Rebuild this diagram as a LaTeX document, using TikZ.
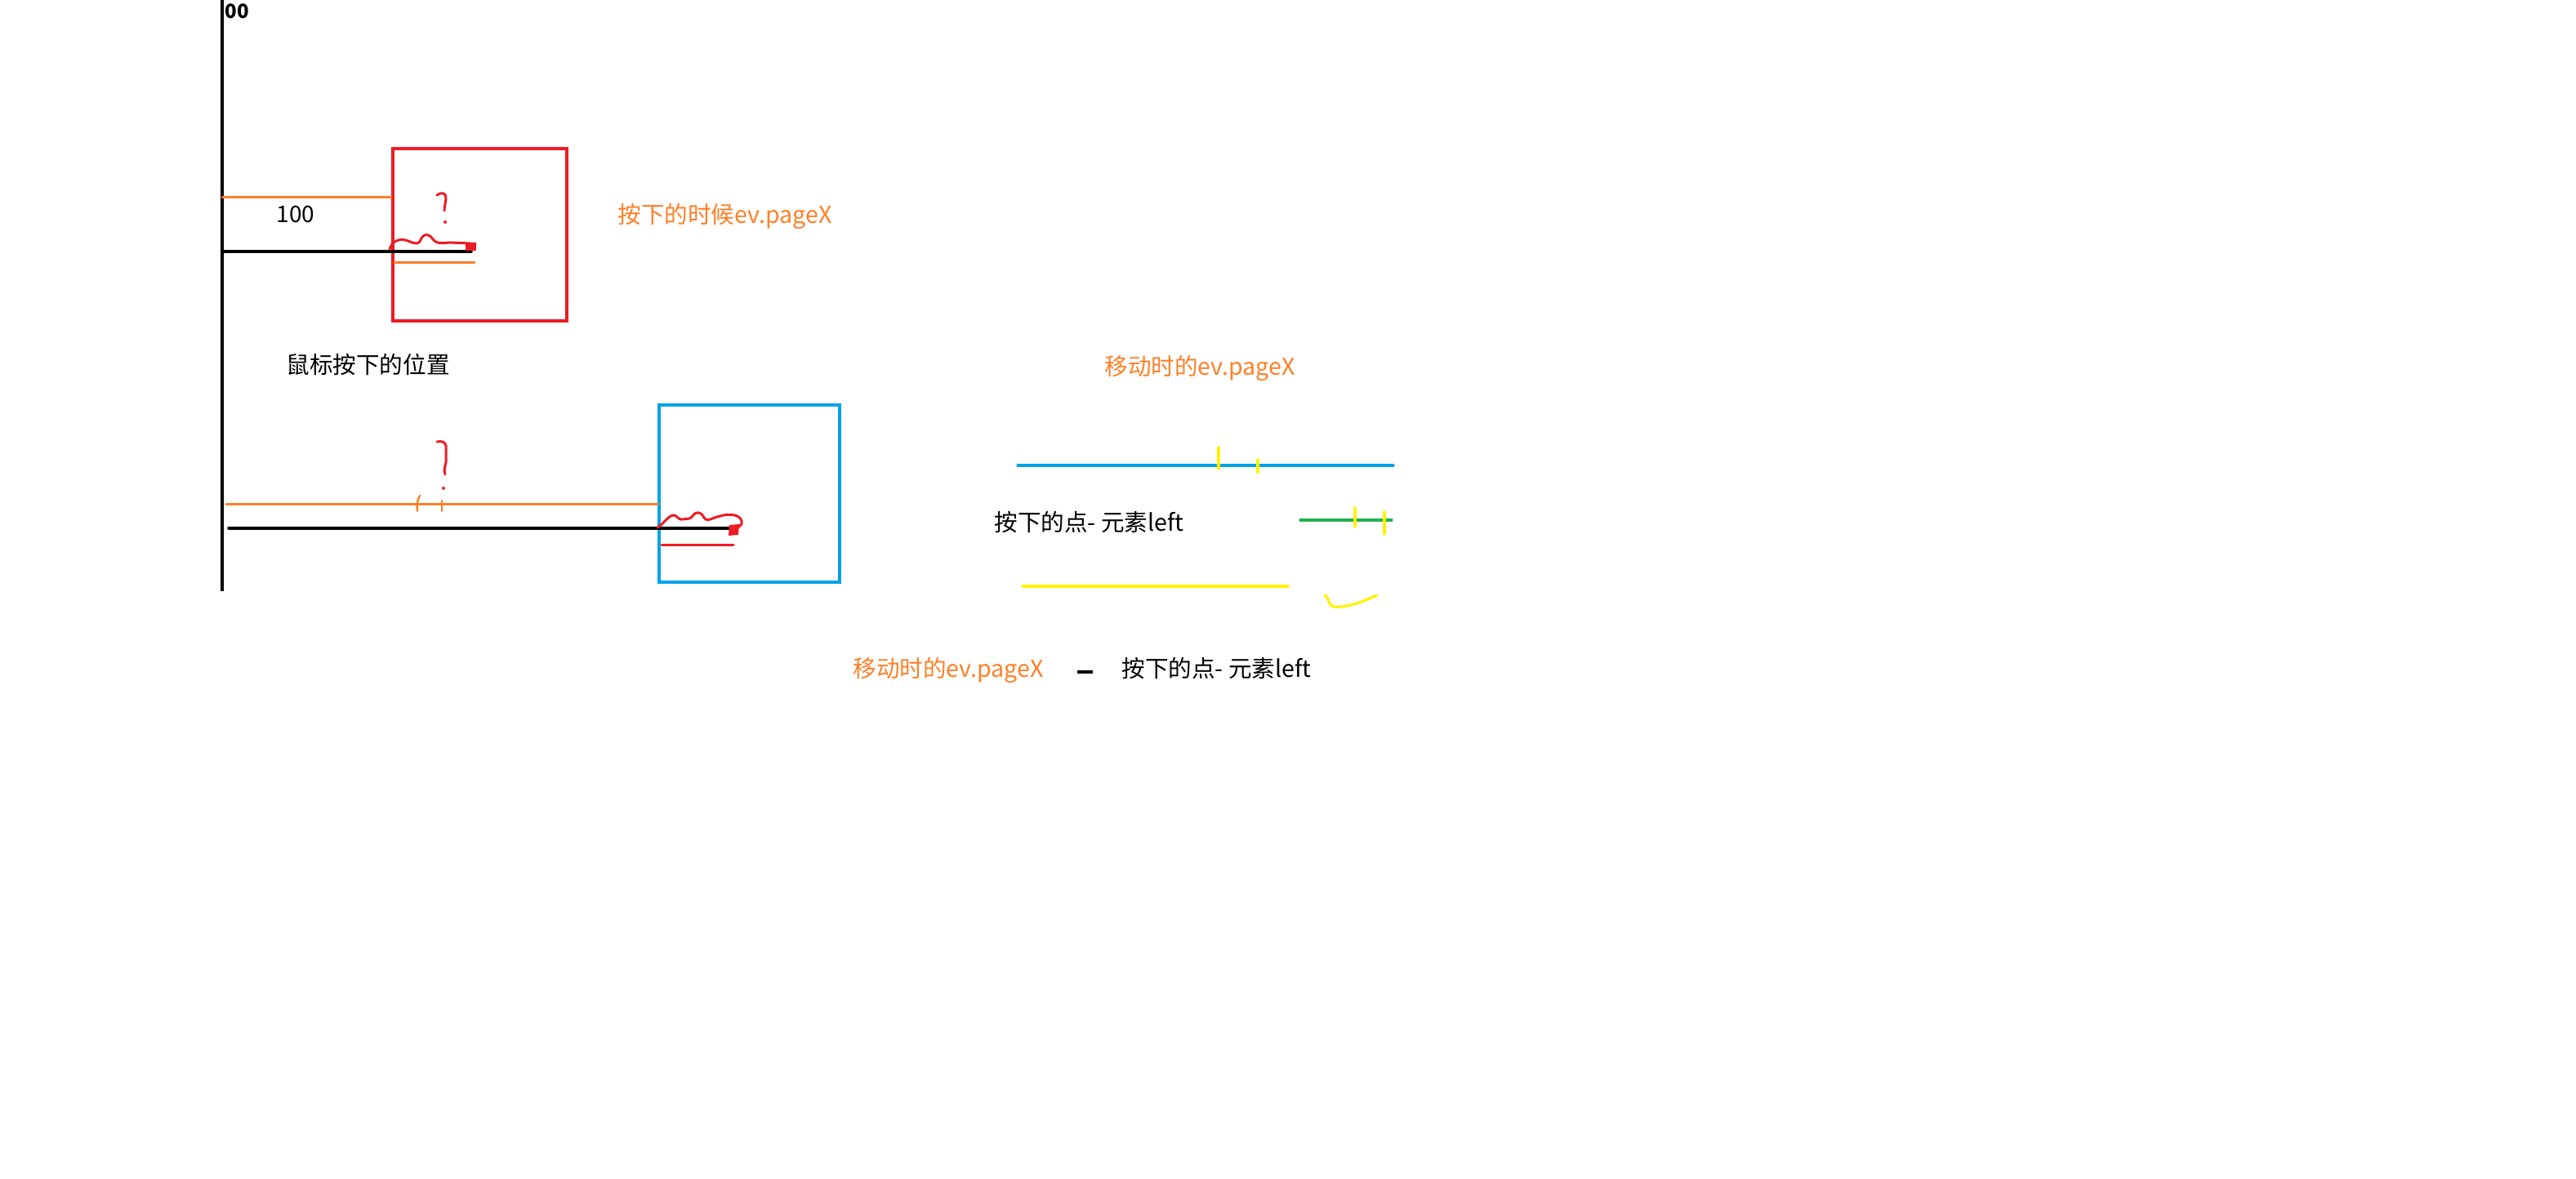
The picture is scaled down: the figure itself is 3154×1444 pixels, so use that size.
\documentclass[tikz,border=0pt]{standalone}
\usepackage{fontspec}
\newfontfamily\cjk{Noto Sans CJK SC}
\definecolor{pred}{HTML}{ED1C24}
\definecolor{porange}{HTML}{FF7F27}
\definecolor{pblue}{HTML}{00A2E8}
\definecolor{pgreen}{HTML}{22B14C}
\definecolor{pyellow}{HTML}{FFF200}
\begin{document}
\begin{tikzpicture}[x=0.5pt,y=-0.5pt,
  txt/.style={inner sep=0pt,anchor=west,font=\cjk\fontsize{14.3pt}{16pt}\selectfont},
  otxt/.style={txt,text=porange},
  axisline/.style={line width=2pt,black},
  blk/.style={line width=1.75pt,black,line cap=round},
  org/.style={line width=1.5pt,porange,line cap=round},
  redpen/.style={line width=1.5pt,pred,line cap=round,line join=round},
  ylw/.style={line width=1.6pt,pyellow,line cap=round,line join=round}]
\useasboundingbox[fill=white] (0,0) rectangle (3154,1444);
% axis
\coordinate (axtop) at (272,0);
\coordinate (axbot) at (272,724);
\draw[axisline] (axtop) -- (axbot);
\node[inner sep=0pt,font=\cjk\bfseries\fontsize{12pt}{12pt}\selectfont] (zz) at (290,14) {00};
% ---- first (red) box ----
\coordinate (rb1) at (481,182);
\coordinate (rb2) at (694,393);
\draw[pred,line width=2pt] (rb1) rectangle (rb2);
\coordinate (o1a) at (272,242);
\coordinate (o1b) at (479,242);
\draw[org] (o1a) -- (o1b);
\node[txt,anchor=center,font=\cjk\fontsize{14pt}{16pt}\selectfont] (hundred) at (362,263) {100};
\coordinate (b1a) at (272,308);
\coordinate (b1b) at (577,308);
\draw[blk] (b1a) -- (b1b);
\coordinate (o2a) at (483,322);
\coordinate (o2b) at (581,322);
\draw[org] (o2a) -- (o2b);
% red squiggle 1
\coordinate (s1) at (477,305);
\draw[redpen] (s1) .. controls (480,296) and (488,292) .. (496,294)
  .. controls (504,296) and (510,301) .. (514,296)
  .. controls (517,287) and (524,284) .. (530,293)
  .. controls (535,299) and (540,298) .. (550,297) -- (575,298);
\coordinate (sq1) at (576,302);
\fill[pred] (570,297) rectangle (583,307);
% question mark
\draw[redpen] (535,239) .. controls (540,235) and (546,236) .. (546,242)
  .. controls (546,248) and (544,252) .. (544,258);
\fill[pred] (545,272) circle (2);
\node[otxt] (l1) at (756,265) {按下的时候ev.pageX};
\node[txt] (l2) at (350,447) {鼠标按下的位置};
% ---- second (blue) box ----
\coordinate (bb1) at (807,496);
\coordinate (bb2) at (1028,713);
\draw[pblue,line width=2.3pt] (bb1) rectangle (bb2);
\coordinate (o3a) at (277,617);
\coordinate (o3b) at (806,617);
\draw[org] (o3a) -- (o3b);
\draw[org,line width=1.2pt] (514,607) .. controls (511,612) and (510,618) .. (511,626);
\draw[org,line width=1.2pt] (541,613) -- (541,626);
\coordinate (b2a) at (280,647);
\coordinate (b2b) at (899,647);
\draw[blk] (b2a) -- (b2b);
\draw[redpen] (805,646) .. controls (812,642) and (818,632) .. (824,631)
  .. controls (829,630) and (829,637) .. (836,636)
  .. controls (843,635) and (845,636) .. (848,632)
  .. controls (852,626) and (858,626) .. (862,634)
  .. controls (866,640) and (872,634) .. (882,632)
  .. controls (895,628) and (906,631) .. (908,638)
  .. controls (909,645) and (903,646) .. (898,648);
\fill[pred] (893,643) -- (905,642) -- (904,655) -- (892,656) -- cycle;
\coordinate (r2a) at (810,667);
\coordinate (r2b) at (898,667);
\draw[redpen] (r2a) -- (r2b);
% exclamation mark
\draw[redpen] (535,541) .. controls (541,540) and (545,541) .. (546,546)
  -- (546,566) .. controls (545,572) and (543,575) .. (545,581);
\fill[pred] (543,598) circle (2);
% ---- right part ----
\node[otxt] (l3) at (1352,451) {移动时的ev.pageX};
\coordinate (bl1) at (1246,570);
\coordinate (bl2) at (1706,570);
\draw[pblue,line width=1.6pt,line cap=round] (bl1) -- (bl2);
\draw[ylw] (1492,548) -- (1492,574);
\draw[ylw] (1540,563) -- (1540,579);
\node[txt] (l4) at (1217,640) {按下的点- 元素left};
\coordinate (gl1) at (1592,637);
\coordinate (gl2) at (1704,637);
\draw[pgreen,line width=1.6pt,line cap=round] (gl1) -- (gl2);
\draw[ylw] (1659,622) -- (1659,645);
\draw[ylw] (1695,627) -- (1695,654);
\coordinate (yl1) at (1252,718);
\coordinate (yl2) at (1577,718);
\draw[ylw] (yl1) -- (yl2);
\draw[ylw] (1622,729) .. controls (1627,731) and (1626,740) .. (1632,743)
  .. controls (1650,745) and (1670,736) .. (1686,729);
% ---- bottom formula ----
\node[otxt] (l5) at (1044,821) {移动时的ev.pageX};
\coordinate (m1) at (1319,823);
\coordinate (m2) at (1338,823);
\draw[black,line width=1.8pt] (m1) -- (m2);
\node[txt] (l6) at (1373,819) {按下的点- 元素left};
\end{tikzpicture}
\end{document}
